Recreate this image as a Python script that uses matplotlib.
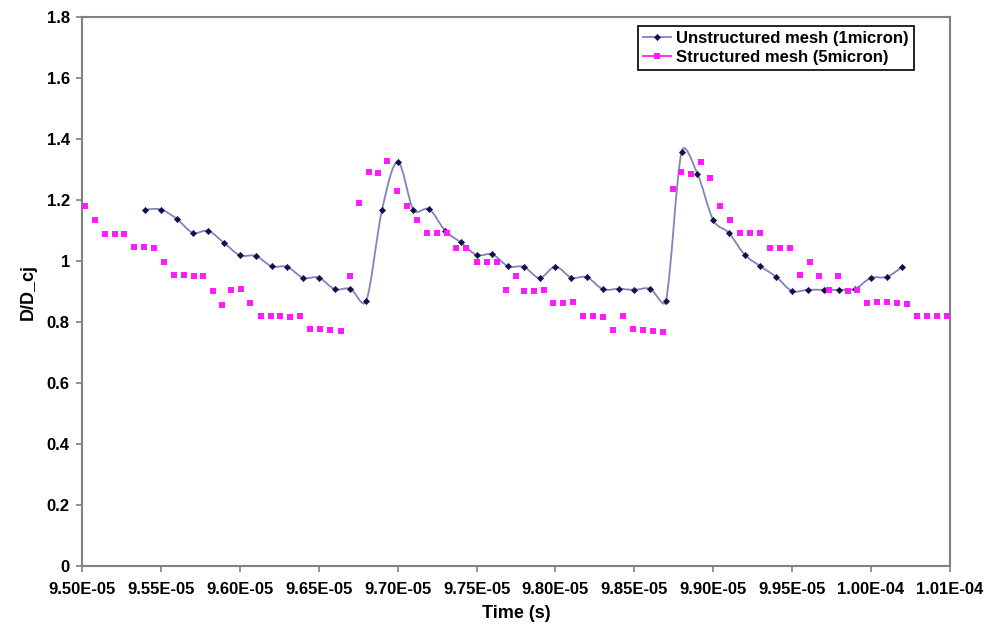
import numpy as np
import matplotlib
matplotlib.use('Agg')
import matplotlib.pyplot as plt
from matplotlib.path import Path
from matplotlib.patches import PathPatch
from matplotlib.lines import Line2D

# ── Data (time in microseconds) ─────────────────────────────────────────────
unstruct_t_us = [95.4, 95.5, 95.6, 95.7, 95.8, 95.9, 96.0, 96.1, 96.2, 96.3,
                 96.4, 96.5, 96.6, 96.7, 96.8, 96.9, 97.0, 97.1, 97.2, 97.3,
                 97.4, 97.5, 97.6, 97.7, 97.8, 97.9, 98.0, 98.1, 98.2, 98.3,
                 98.4, 98.5, 98.6, 98.7, 98.8, 98.9, 99.0, 99.1, 99.2, 99.3,
                 99.4, 99.5, 99.6, 99.7, 99.8, 99.9, 100.0, 100.1, 100.2]
unstruct_d = [1.170, 1.170, 1.139, 1.094, 1.100, 1.060, 1.020, 1.018, 0.984, 0.982,
              0.946, 0.947, 0.909, 0.910, 0.870, 1.168, 1.326, 1.169, 1.171, 1.101,
              1.062, 1.021, 1.023, 0.984, 0.982, 0.946, 0.983, 0.947, 0.948, 0.909,
              0.910, 0.907, 0.910, 0.870, 1.359, 1.288, 1.136, 1.093, 1.022, 0.984,
              0.949, 0.903, 0.907, 0.907, 0.907, 0.910, 0.946, 0.949, 0.982]

struct_t_us = [95.017, 95.079, 95.142, 95.205, 95.266, 95.330, 95.393, 95.455, 95.520, 95.583,
               95.647, 95.708, 95.767, 95.827, 95.886, 95.945, 96.004, 96.065, 96.131, 96.195,
               96.256, 96.319, 96.379, 96.444, 96.507, 96.573, 96.639, 96.696, 96.755, 96.816,
               96.873, 96.932, 96.996, 97.057, 97.121, 97.184, 97.247, 97.311, 97.372, 97.435,
               97.501, 97.566, 97.628, 97.689, 97.750, 97.803, 97.864, 97.928, 97.987, 98.050,
               98.114, 98.177, 98.240, 98.304, 98.365, 98.429, 98.492, 98.556, 98.619, 98.680,
               98.746, 98.797, 98.858, 98.921, 98.980, 99.044, 99.107, 99.173, 99.234, 99.297,
               99.363, 99.426, 99.488, 99.551, 99.614, 99.673, 99.737, 99.794, 99.854, 99.914,
               99.976, 100.041, 100.103, 100.168, 100.228, 100.291, 100.354, 100.420, 100.485]
struct_d = [1.183, 1.136, 1.091, 1.091, 1.091, 1.047, 1.047, 1.044, 0.999, 0.956,
            0.956, 0.953, 0.953, 0.903, 0.856, 0.907, 0.909, 0.864, 0.820, 0.820,
            0.820, 0.818, 0.820, 0.778, 0.778, 0.775, 0.772, 0.953, 1.192, 1.294,
            1.289, 1.330, 1.231, 1.180, 1.136, 1.092, 1.092, 1.092, 1.045, 1.045,
            0.999, 0.999, 0.999, 0.907, 0.953, 0.902, 0.902, 0.906, 0.864, 0.864,
            0.867, 0.820, 0.820, 0.818, 0.775, 0.822, 0.780, 0.775, 0.772, 0.767,
            1.238, 1.294, 1.288, 1.327, 1.274, 1.181, 1.135, 1.092, 1.092, 1.092,
            1.045, 1.045, 1.045, 0.956, 0.999, 0.953, 0.906, 0.953, 0.902, 0.907,
            0.864, 0.867, 0.867, 0.864, 0.861, 0.820, 0.822, 0.822, 0.822]

x_ticks = [9.50e-5, 9.55e-5, 9.60e-5, 9.65e-5, 9.70e-5, 9.75e-5,
           9.80e-5, 9.85e-5, 9.90e-5, 9.95e-5, 1.00e-4, 1.005e-4]
x_ticklabels = ['9.50E-05', '9.55E-05', '9.60E-05', '9.65E-05', '9.70E-05', '9.75E-05',
                '9.80E-05', '9.85E-05', '9.90E-05', '9.95E-05', '1.00E-04', '1.01E-04']
y_ticks = [0, 0.2, 0.4, 0.6, 0.8, 1.0, 1.2, 1.4, 1.6, 1.8]
y_ticklabels = ['0', '0.2', '0.4', '0.6', '0.8', '1', '1.2', '1.4', '1.6', '1.8']

line_col = '#8084bb'
mark_col = '#10104a'
mag_col = '#ff1aff'
axis_col = '#808080'

plt.rcParams['font.family'] = ['Liberation Sans', 'DejaVu Sans']
plt.rcParams['font.weight'] = 'bold'

fig = plt.figure(figsize=(9.95, 6.3), dpi=100)
ax = fig.add_axes([0.0827, 0.1008, 0.8718, 0.8717])
ax.set_xlim(9.50e-5, 1.005e-4)
ax.set_ylim(0, 1.8)

tu = np.array(unstruct_t_us) * 1e-6
du = np.array(unstruct_d)

# smoothed line: Catmull-Rom arms in display space, each arm capped at
# half of its segment so the dips don't overshoot too much
disp = ax.transData.transform(np.column_stack([tu, du]))
ext = np.vstack([disp[0], disp, disp[-1]])
tang = (ext[2:] - ext[:-2]) / 6.0
verts = [disp[0]]
codes = [Path.MOVETO]
for i in range(len(disp) - 1):
    seg = np.linalg.norm(disp[i + 1] - disp[i])
    a1, a2 = tang[i].copy(), tang[i + 1].copy()
    for a in (a1, a2):
        n = np.linalg.norm(a)
        if n > 0.5 * seg:
            a *= 0.5 * seg / n
    verts += [disp[i] + a1, disp[i + 1] - a2, disp[i + 1]]
    codes += [Path.CURVE4] * 3
data_verts = ax.transData.inverted().transform(np.array(verts))
ax.add_patch(PathPatch(Path(data_verts, codes), fill=False, edgecolor=line_col,
                       linewidth=1.3, zorder=2))
ax.plot(tu, du, linestyle='none', marker='D', markersize=3.2,
        markeredgewidth=0.4, color=mark_col, zorder=3)

ax.plot(np.array(struct_t_us) * 1e-6, struct_d, linestyle='none', marker='s',
        markersize=4.6, color=mag_col, markeredgewidth=0, zorder=3)

ax.set_xticks(x_ticks)
ax.set_xticklabels(x_ticklabels)
ax.set_yticks(y_ticks)
ax.set_yticklabels(y_ticklabels)
ax.tick_params(axis='both', direction='out', length=4, width=1.2,
               color=axis_col, labelsize=12)
ax.tick_params(axis='x', pad=7)
ax.tick_params(axis='y', pad=5)
for sp in ax.spines.values():
    sp.set_color(axis_col)
    sp.set_linewidth(1.5)

ax.set_xlabel('Time (s)', fontsize=13, fontweight='bold', labelpad=6)
ax.set_ylabel('D/D_cj', fontsize=13, fontweight='bold', labelpad=7)

handles = [
    Line2D([], [], color=line_col, linewidth=1.3, marker='D', markersize=3.2,
           markerfacecolor=mark_col, markeredgecolor=mark_col, markeredgewidth=0.4),
    Line2D([], [], color=mag_col, linewidth=1.3, marker='s', markersize=4.6,
           markerfacecolor=mag_col, markeredgewidth=0),
]
leg = ax.legend(handles, ['Unstructured mesh (1micron)', 'Structured mesh (5micron)'],
                loc='upper right', bbox_to_anchor=(0.9589, 0.9842), borderaxespad=0,
                fancybox=False, framealpha=1, edgecolor='black', fontsize=12,
                handlelength=1.7, handletextpad=0.3, borderpad=0.3,
                labelspacing=0.25)
leg.get_frame().set_linewidth(1.2)
for txt in leg.get_texts():
    txt.set_fontweight('bold')

fig.savefig('out.png', dpi=100)
